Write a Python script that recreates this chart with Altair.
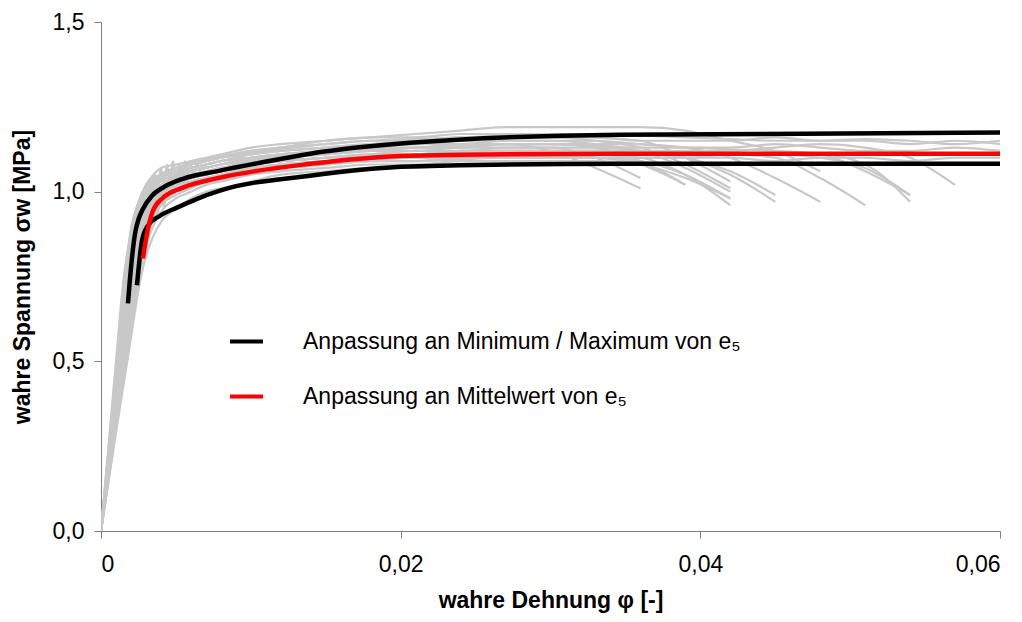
import altair as alt
import pandas as pd

# ---------------- data ----------------
strain_grid = [0, 0.001, 0.0015, 0.002, 0.0025, 0.003, 0.0035, 0.004, 0.005, 0.006,
               0.007, 0.008, 0.010, 0.012, 0.015, 0.018, 0.021, 0.024, 0.027, 0.030,
               0.033, 0.036, 0.039, 0.042, 0.045, 0.048, 0.051, 0.054, 0.057, 0.060]

g01 = [0, 0.50, 0.74, 0.88, 0.95, 0.99, 1.02, 1.04, 1.06, 1.08, 1.09, 1.10, 1.12, 1.13, 1.15, 1.16, 1.17, 1.18, 1.19, 1.19, 1.19, 1.19, 1.18, 1.15, 1.12, 1.06]
g02 = [0, 0.47, 0.70, 0.89, 0.97, 1.02, 1.05, 1.07, 1.08, 1.09, 1.10, 1.11, 1.13, 1.14, 1.15, 1.16, 1.16, 1.17, 1.17, 1.17, 1.16, 1.15, 1.10, 1.03]
g03 = [0, 0.45, 0.67, 0.86, 0.96, 1.01, 1.04, 1.05, 1.07, 1.08, 1.09, 1.10, 1.11, 1.12, 1.13, 1.14, 1.15, 1.15, 1.16, 1.16, 1.16, 1.15, 1.15, 1.15, 1.16, 1.15, 1.15, 1.14, 1.15, 1.14]
g04 = [0, 0.42, 0.63, 0.82, 0.93, 0.99, 1.02, 1.04, 1.06, 1.07, 1.08, 1.09, 1.10, 1.11, 1.12, 1.13, 1.14, 1.14, 1.15, 1.15, 1.15, 1.14, 1.13, 1.10, 1.04, 0.97]
g05 = [0, 0.40, 0.60, 0.79, 0.91, 0.97, 1.00, 1.02, 1.04, 1.06, 1.07, 1.08, 1.09, 1.10, 1.11, 1.12, 1.13, 1.13, 1.14, 1.14, 1.14, 1.14, 1.13, 1.13, 1.14, 1.13, 1.12, 1.12, 1.13, 1.12]
g06 = [0, 0.38, 0.57, 0.75, 0.88, 0.95, 0.99, 1.01, 1.03, 1.05, 1.06, 1.07, 1.08, 1.09, 1.10, 1.11, 1.12, 1.12, 1.13, 1.13, 1.13, 1.12, 1.10, 1.05, 0.97]
g07 = [0, 0.36, 0.54, 0.72, 0.85, 0.93, 0.97, 1.00, 1.02, 1.04, 1.05, 1.06, 1.08, 1.09, 1.10, 1.11, 1.11, 1.12, 1.12, 1.12, 1.12, 1.12, 1.11, 1.11, 1.11, 1.10, 1.07, 0.99]
g08 = [0, 0.34, 0.51, 0.68, 0.82, 0.91, 0.96, 0.99, 1.02, 1.03, 1.04, 1.05, 1.07, 1.08, 1.09, 1.10, 1.10, 1.11, 1.11, 1.11, 1.11, 1.10, 1.05, 0.96]
g09 = [0, 0.32, 0.48, 0.64, 0.79, 0.88, 0.94, 0.97, 1.00, 1.02, 1.03, 1.04, 1.06, 1.07, 1.08, 1.09, 1.09, 1.10, 1.10, 1.10, 1.10, 1.10, 1.10, 1.10, 1.09, 1.10, 1.10, 1.09, 1.10, 1.10]
g10 = [0, 0.30, 0.45, 0.60, 0.74, 0.84, 0.90, 0.94, 0.98, 1.00, 1.02, 1.03, 1.05, 1.06, 1.07, 1.08, 1.08, 1.09, 1.09, 1.09, 1.09, 1.08, 1.04, 0.98]
g11 = [0, 0.29, 0.43, 0.57, 0.71, 0.81, 0.87, 0.91, 0.95, 0.98, 1.00, 1.01, 1.03, 1.05, 1.06, 1.07, 1.07, 1.08, 1.08, 1.08, 1.08, 1.08, 1.08, 1.08, 1.08, 1.08, 1.08, 1.08, 1.08, 1.08]
g12 = [0, 0.44, 0.66, 0.85, 0.94, 0.99, 1.02, 1.04, 1.06, 1.07, 1.08, 1.09, 1.11, 1.12, 1.13, 1.14, 1.14, 1.15, 1.15, 1.15, 1.14, 1.12, 1.07, 1.00]
g13 = [0, 0.41, 0.61, 0.80, 0.92, 0.98, 1.01, 1.03, 1.05, 1.07, 1.08, 1.09, 1.10, 1.11, 1.12, 1.12, 1.13, 1.13, 1.14, 1.14, 1.13, 1.09, 1.02]
g14 = [0, 0.37, 0.55, 0.74, 0.87, 0.94, 0.98, 1.00, 1.03, 1.04, 1.05, 1.06, 1.08, 1.09, 1.10, 1.11, 1.11, 1.12, 1.12, 1.12, 1.12, 1.12, 1.12, 1.12, 1.13, 1.14, 1.13, 1.10, 1.02]
g15 = [0, 0.35, 0.52, 0.70, 0.84, 0.92, 0.96, 0.99, 1.02, 1.04, 1.05, 1.06, 1.07, 1.08, 1.09, 1.10, 1.10, 1.11, 1.11, 1.11, 1.11, 1.11, 1.11, 1.11, 1.11, 1.11, 1.08, 0.97]
g16 = [0, 0.33, 0.50, 0.66, 0.80, 0.89, 0.95, 0.98, 1.01, 1.03, 1.04, 1.05, 1.07, 1.08, 1.09, 1.10, 1.10, 1.11, 1.11, 1.11, 1.11, 1.10, 1.10, 1.11, 1.10, 1.04, 0.96]
g17 = [0, 0.39, 0.58, 0.77, 0.89, 0.96, 0.99, 1.01, 1.04, 1.05, 1.06, 1.07, 1.09, 1.10, 1.11, 1.12, 1.12, 1.13, 1.13, 1.13, 1.10, 1.04]
g18 = [0, 0.43, 0.64, 0.83, 0.93, 0.98, 1.01, 1.03, 1.05, 1.06, 1.07, 1.08, 1.10, 1.11, 1.12, 1.13, 1.13, 1.14, 1.14, 1.12, 1.07, 1.01]
g19 = [0, 0.46, 0.69, 0.87, 0.95, 1.00, 1.03, 1.05, 1.07, 1.08, 1.09, 1.10, 1.115, 1.125, 1.14, 1.15, 1.15, 1.16, 1.16, 1.16, 1.15, 1.13, 1.08, 1.01]
g20 = [0, 0.31, 0.47, 0.62, 0.77, 0.86, 0.92, 0.96, 0.99, 1.01, 1.03, 1.04, 1.06, 1.07, 1.08, 1.09, 1.09, 1.095, 1.10, 1.10, 1.10, 1.09, 1.05, 0.98]
g21 = [0, 0.48, 0.72, 0.88, 0.96, 1.00, 1.03, 1.05, 1.07, 1.085, 1.095, 1.105, 1.12, 1.13, 1.14, 1.15, 1.155, 1.16, 1.165, 1.17, 1.17, 1.165, 1.16, 1.155, 1.15, 1.15, 1.155, 1.15, 1.14, 1.15]
g22 = [0, 0.36, 0.53, 0.71, 0.85, 0.93, 0.97, 1.00, 1.025, 1.04, 1.055, 1.065, 1.08, 1.09, 1.10, 1.105, 1.11, 1.115, 1.12, 1.12, 1.12, 1.115, 1.10, 1.06, 0.99]
g23 = [0, 0.40, 0.59, 0.78, 0.90, 0.96, 1.00, 1.02, 1.045, 1.06, 1.07, 1.08, 1.095, 1.105, 1.115, 1.125, 1.13, 1.135, 1.14, 1.14, 1.135, 1.13, 1.13, 1.125, 1.12, 1.11, 1.06, 0.99]
g24 = [0, 0.33, 0.49, 0.65, 0.79, 0.88, 0.94, 0.97, 1.005, 1.02, 1.035, 1.045, 1.06, 1.075, 1.085, 1.095, 1.10, 1.10, 1.105, 1.105, 1.10, 1.08, 1.02]

noise1_x = [0.0034, 0.0036, 0.0038, 0.0040, 0.0042, 0.0044, 0.0046, 0.0048, 0.0050, 0.0052,
            0.0054, 0.0056, 0.0058, 0.0060, 0.0062, 0.0064, 0.0066, 0.0068, 0.0070]
noise1_y = [0.99, 1.05, 1.01, 1.07, 1.02, 1.08, 1.03, 1.09, 1.04, 1.08,
            1.03, 1.09, 1.05, 1.08, 1.04, 1.09, 1.06, 1.08, 1.07]
noise2_x = [0.0030, 0.0032, 0.0034, 0.0036, 0.0038, 0.0040, 0.0042, 0.0044, 0.0046, 0.0048,
            0.0050, 0.0052, 0.0054, 0.0056]
noise2_y = [0.90, 0.96, 0.92, 0.99, 0.93, 1.01, 0.95, 1.03, 0.98, 1.05, 1.00, 1.06, 1.02, 1.04]

fit_max_x = [0.00180, 0.00200, 0.00227, 0.00250, 0.00274, 0.00340, 0.00414, 0.00547, 0.00794,
             0.0106, 0.01395, 0.02062, 0.03464, 0.0600]
fit_max_y = [0.671, 0.775, 0.876, 0.918, 0.944, 0.988, 1.012, 1.038, 1.062,
             1.085, 1.112, 1.144, 1.168, 1.174]
fit_min_x = [0.00240, 0.00274, 0.00314, 0.00394, 0.00507, 0.00641, 0.00794, 0.01395, 0.02062,
             0.03464, 0.0600]
fit_min_y = [0.724, 0.856, 0.900, 0.929, 0.953, 0.979, 1.003, 1.047, 1.074, 1.082, 1.082]
fit_mean_x = [0.00280, 0.00307, 0.00347, 0.00414, 0.00547, 0.00794, 0.01395, 0.02062, 0.03464,
              0.0600]
fit_mean_y = [0.803, 0.876, 0.944, 0.982, 1.012, 1.041, 1.082, 1.106, 1.112, 1.112]

label_minmax = "Anpassung an Minimum / Maximum von e₅"
label_mean = "Anpassung an Mittelwert von e₅"

# ---------------- tables ----------------
gray_series = [("g01", g01), ("g02", g02), ("g03", g03), ("g04", g04), ("g05", g05),
               ("g06", g06), ("g07", g07), ("g08", g08), ("g09", g09), ("g10", g10),
               ("g11", g11), ("g12", g12), ("g13", g13), ("g14", g14), ("g15", g15),
               ("g16", g16), ("g17", g17), ("g18", g18), ("g19", g19), ("g20", g20),
               ("g21", g21), ("g22", g22), ("g23", g23), ("g24", g24)]
gray_rows = []
for name, vals in gray_series:
    for s, v in zip(strain_grid, vals):
        gray_rows.append({"curve": name, "strain": s, "stress": v})
for name, xs, ys in [("n1", noise1_x, noise1_y), ("n2", noise2_x, noise2_y)]:
    for s, v in zip(xs, ys):
        gray_rows.append({"curve": name, "strain": s, "stress": v})
gray_df = pd.DataFrame(gray_rows)

fit_rows = []
for name, lab, xs, ys in [("max", label_minmax, fit_max_x, fit_max_y),
                          ("min", label_minmax, fit_min_x, fit_min_y),
                          ("mean", label_mean, fit_mean_x, fit_mean_y)]:
    for s, v in zip(xs, ys):
        fit_rows.append({"curve": name, "fit": lab, "strain": s, "stress": v})
fit_df = pd.DataFrame(fit_rows)

FONT = "Liberation Sans"
FS = 23

x_scale = alt.Scale(domain=[0, 0.06], nice=False, zero=False)
y_scale = alt.Scale(domain=[0, 1.5], nice=False)

x_axis = alt.Axis(values=[0, 0.02, 0.04, 0.06], grid=False,
                  labelExpr="datum.value == 0 ? '0' : replace(format(datum.value, '.2f'), '.', ',')",
                  title="wahre Dehnung φ [-]", tickSize=7, labelPadding=15, titlePadding=13)
y_axis = alt.Axis(values=[0, 0.5, 1.0, 1.5], grid=False,
                  labelExpr="replace(format(datum.value, '.1f'), '.', ',')",
                  title="wahre Spannung σw [MPa]", tickSize=7, labelPadding=10, titlePadding=18)

gray = alt.Chart(gray_df).mark_line(color="#c8c8c8", strokeWidth=2.2, interpolate="monotone",
                                    clip=True).encode(
    x=alt.X("strain:Q", scale=x_scale, axis=x_axis),
    y=alt.Y("stress:Q", scale=y_scale, axis=y_axis),
    detail="curve:N",
    order="strain:Q",
)

fits = alt.Chart(fit_df).mark_line(strokeWidth=4.5, interpolate="monotone", clip=True).encode(
    x=alt.X("strain:Q", scale=x_scale),
    y=alt.Y("stress:Q", scale=y_scale),
    detail="curve:N",
    order="strain:Q",
    color=alt.Color("fit:N",
                    scale=alt.Scale(domain=[label_minmax, label_mean], range=["#000000", "#ff0000"]),
                    legend=alt.Legend(title=None, orient="none", legendX=127, legendY=301,
                                      symbolType="stroke", symbolSize=1089, symbolStrokeWidth=4,
                                      labelFontSize=FS, labelFont=FONT, labelColor="#000000",
                                      labelOffset=38, rowPadding=24, labelLimit=700)),
)

chart = alt.layer(gray, fits).properties(
    width=899, height=509,
    autosize=alt.AutoSizeParams(type="none"),
    padding={"left": 93, "top": 14, "right": 14, "bottom": 83},
).configure_view(stroke=None).configure_axis(
    labelFont=FONT, titleFont=FONT, labelFontSize=FS, titleFontSize=FS,
    labelColor="#000000", titleColor="#000000", titleFontWeight="bold",
    domainColor="#808080", tickColor="#808080", domainWidth=1, tickWidth=1,
)

chart.save("out.html", embed_options={"renderer": "svg", "actions": False})
